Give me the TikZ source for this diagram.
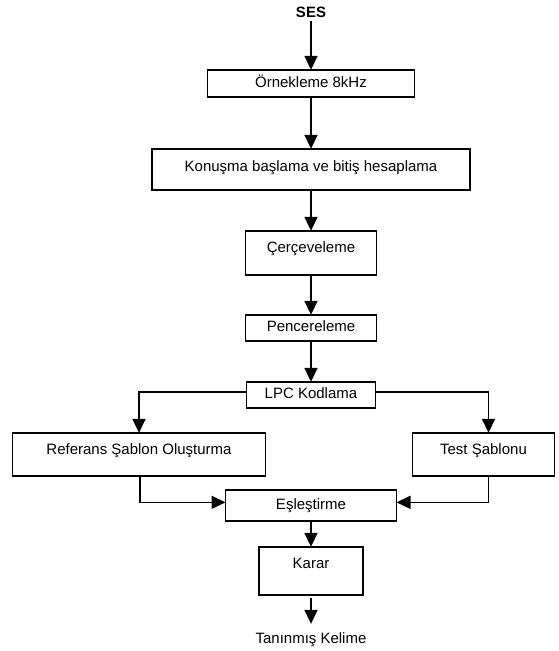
\documentclass[tikz,border=0pt]{standalone}
\usepackage{fontspec}
\setmainfont{Liberation Sans}
\usetikzlibrary{arrows.meta, positioning}

\begin{document}
\begin{tikzpicture}[
    x=1pt, y=1pt,
    node distance=40pt,
    font=\fontsize{15}{18}\selectfont,
    box/.style={
        rectangle, draw, line width=1.5pt,
        outer sep=0pt, inner sep=0pt,
        text height=10.5pt, text depth=3pt
    },
    arrow/.style={-{Triangle[length=14pt,width=13pt]}, line width=1.6pt}
]
\useasboundingbox (0,0) rectangle (558,-651);

% Giris
\node[font=\fontsize{15}{18}\selectfont\bfseries] (ses) at (311,-12) {SES};

% Ana akis
\node[box, minimum width=207pt, minimum height=27pt, text depth=1.5pt, below=49pt of ses] (orn) {Örnekleme 8kHz};
\node[box, minimum width=318pt, minimum height=41pt, text depth=6.5pt, below=52pt of orn] (kon)
    {Konuşma başlama ve bitiş hesaplama};
\node[box, minimum width=131pt, minimum height=44pt, text depth=11.5pt, below=41pt of kon] (cer) {Çerçeveleme};
\node[box, minimum width=131pt, minimum height=26pt, below=40pt of cer] (pen) {Pencereleme};
\node[box, minimum width=129pt, minimum height=26pt, below=41pt of pen] (lpc) {LPC Kodlama};

% Sablonlar
\node[box, minimum width=253pt, minimum height=43pt, text depth=10.5pt,
      below left=25pt and -19pt of lpc] (ref) {Referans Şablon Oluşturma};
\node[box, minimum width=142pt, minimum height=43pt, text depth=10.5pt,
      below right=25pt and 37pt of lpc] (test) {Test Şablonu};

% Karar kismi
\coordinate (mid) at (ref.south -| lpc.south);
\node[box, minimum width=171pt, minimum height=31pt, below=14pt of mid] (esl) {Eşleştirme};
\node[box, minimum width=104pt, minimum height=48pt, text depth=15.5pt, below=26pt of esl] (karar) {Karar};
\node[below=35pt of karar, inner sep=3pt] (kelime) {Tanınmış Kelime};

% Oklar
\draw[arrow] (ses) -- (orn);
\draw[arrow] (orn) -- (kon);
\draw[arrow] (kon) -- (cer);
\draw[arrow] (cer) -- (pen);
\draw[arrow] (pen) -- (lpc);
\draw[arrow] ([yshift=3pt]lpc.west) -| (ref.north);
\draw[arrow] ([yshift=3pt]lpc.east) -| ([xshift=5pt]test.north);
\draw[arrow] ([xshift=1pt]ref.south) |- ([yshift=3pt]esl.west);
\draw[arrow] ([xshift=5pt]test.south) |- ([yshift=3pt]esl.east);
\draw[arrow] (esl) -- (karar);
\draw[arrow, shorten <=3pt, shorten >=6pt] (karar) -- (kelime);

\end{tikzpicture}
\end{document}
